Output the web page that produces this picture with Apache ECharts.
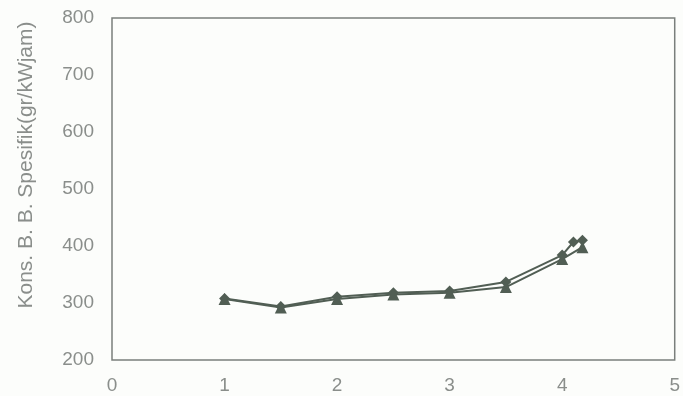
<!DOCTYPE html>
<html>
<head>
<meta charset="utf-8">
<script src="https://cdn.jsdelivr.net/npm/echarts@6/dist/echarts.min.js"></script>
<style>
  html, body { margin: 0; padding: 0; background: #fcfdfb; }
  #chart { width: 683px; height: 396px; }
</style>
</head>
<body>
<div id="chart"></div>
<script>
// Specific fuel consumption vs load
var loadA = [1, 1.5, 2, 2.5, 3, 3.5, 4, 4.1, 4.18];
var sfcA  = [308, 294, 311, 318, 321, 337, 384, 407, 410];
var loadB = [1, 1.5, 2, 2.5, 3, 3.5, 4, 4.18];
var sfcB  = [307, 292, 307, 315, 318, 328, 377, 398];
var xTicks = [0, 1, 2, 3, 4, 5];
var yTicks = [200, 300, 400, 500, 600, 700, 800];
var yTitle = 'Kons. B. B. Spesifik(gr/kWjam)';

function pairs(xs, ys) {
  return xs.map(function (x, i) { return [x, ys[i]]; });
}

var lineColor = '#515e54';
var textColor = '#8a8e8b';
var fontFamily = 'Liberation Sans, Arial';
var chart = echarts.init(document.getElementById('chart'));
chart.setOption({
  backgroundColor: '#fcfdfb',
  animation: false,
  grid: {
    left: 112, right: 7, top: 18, bottom: 36,
    show: true, borderColor: '#7a7f7c', borderWidth: 1.5, backgroundColor: 'transparent'
  },
  xAxis: {
    type: 'value',
    min: xTicks[0], max: xTicks[xTicks.length - 1], interval: 1,
    axisLine: { show: false },
    axisTick: { show: false },
    splitLine: { show: false },
    axisLabel: { color: textColor, fontSize: 19, fontFamily: fontFamily, margin: 16 }
  },
  yAxis: {
    type: 'value',
    min: yTicks[0], max: yTicks[yTicks.length - 1], interval: 100,
    name: yTitle,
    nameLocation: 'middle',
    nameGap: 75,
    nameTextStyle: { color: textColor, fontSize: 21, fontFamily: fontFamily, padding: [0, 0, 0, 48] },
    axisLine: { show: false },
    axisTick: { show: false },
    splitLine: { show: false },
    axisLabel: { color: textColor, fontSize: 19, fontFamily: fontFamily, margin: 18 }
  },
  series: [
    {
      type: 'line',
      data: pairs(loadA, sfcA),
      symbol: 'diamond',
      symbolSize: 11,
      lineStyle: { color: lineColor, width: 2 },
      itemStyle: { color: lineColor }
    },
    {
      type: 'line',
      data: pairs(loadB, sfcB),
      symbol: 'triangle',
      symbolSize: 12,
      lineStyle: { color: lineColor, width: 2 },
      itemStyle: { color: lineColor }
    }
  ]
});
</script>
</body>
</html>
